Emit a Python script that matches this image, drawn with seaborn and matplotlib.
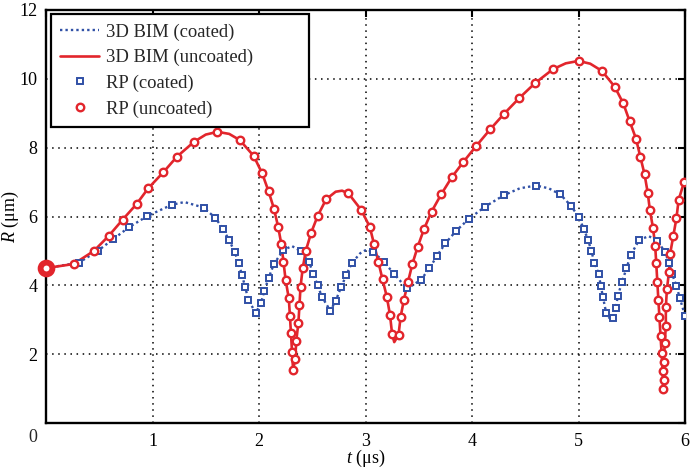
import matplotlib
matplotlib.use("Agg")
import matplotlib.pyplot as plt
import seaborn as sns
import pandas as pd

# ---- data ----
# RP markers, uncoated
t_rp_unc = [0.00, 0.26, 0.45, 0.59, 0.72, 0.85, 0.96, 1.10, 1.23, 1.39, 1.61, 1.82,
            1.95, 2.03, 2.09, 2.14, 2.18, 2.21, 2.23, 2.25, 2.28, 2.29, 2.30, 2.31, 2.32,
            2.34, 2.35, 2.37, 2.38, 2.39, 2.41, 2.44, 2.49, 2.55, 2.63, 2.84, 2.96,
            3.04, 3.08, 3.12, 3.16, 3.20, 3.23, 3.25, 3.31, 3.33, 3.36, 3.40, 3.44,
            3.49, 3.55, 3.62, 3.71, 3.81, 3.92, 4.04, 4.17, 4.30, 4.44, 4.59, 4.76,
            5.00, 5.22, 5.34, 5.42, 5.48, 5.54, 5.58, 5.62, 5.65, 5.67, 5.70, 5.72,
            5.73, 5.74, 5.75, 5.76, 5.77, 5.78, 5.79, 5.79, 5.80, 5.80, 5.81, 5.82,
            5.82, 5.83, 5.85, 5.86, 5.89, 5.92, 5.94, 5.99]
r_rp_unc = [4.50, 4.62, 5.00, 5.44, 5.91, 6.36, 6.82, 7.28, 7.74, 8.17, 8.46, 8.22,
            7.76, 7.25, 6.73, 6.23, 5.70, 5.19, 4.68, 4.15, 3.62, 3.12, 2.61, 2.07, 1.54,
            1.85, 2.39, 2.91, 3.43, 3.96, 4.49, 5.01, 5.53, 6.01, 6.50, 6.67, 6.19,
            5.70, 5.20, 4.69, 4.17, 3.67, 3.14, 2.58, 2.56, 3.09, 3.57, 4.11, 4.62,
            5.12, 5.64, 6.14, 6.64, 7.14, 7.59, 8.05, 8.53, 8.98, 9.43, 9.87, 10.28,
            10.52, 10.23, 9.77, 9.29, 8.77, 8.26, 7.74, 7.23, 6.69, 6.19, 5.66, 5.15,
            4.64, 4.11, 3.57, 3.07, 2.54, 2.04, 1.52, 0.99, 1.25, 1.78, 2.32, 2.83,
            3.36, 3.88, 4.40, 4.91, 5.43, 5.96, 6.48, 6.99]

# 3D BIM line, uncoated
t_bim_unc = [0.00, 0.26, 0.45, 0.59, 0.72, 0.85, 0.96, 1.10, 1.23, 1.39, 1.50, 1.61, 1.72, 1.82,
             1.95, 2.03, 2.09, 2.14, 2.18, 2.21, 2.23, 2.25, 2.28, 2.29, 2.30, 2.31, 2.32,
             2.34, 2.35, 2.37, 2.38, 2.39, 2.41, 2.44, 2.49, 2.55, 2.63, 2.72, 2.78, 2.84, 2.96,
             3.04, 3.08, 3.12, 3.16, 3.20, 3.23, 3.25, 3.27, 3.31, 3.33, 3.36, 3.40, 3.44,
             3.49, 3.55, 3.62, 3.71, 3.81, 3.92, 4.04, 4.17, 4.30, 4.44, 4.59, 4.76, 4.88,
             5.00, 5.11, 5.22, 5.34, 5.42, 5.48, 5.54, 5.58, 5.62, 5.65, 5.67, 5.70, 5.72,
             5.73, 5.74, 5.75, 5.76, 5.77, 5.78, 5.79, 5.795, 5.80, 5.80, 5.81, 5.82,
             5.82, 5.83, 5.85, 5.86, 5.89, 5.92, 5.94, 5.99]
r_bim_unc = [4.50, 4.62, 5.00, 5.44, 5.91, 6.36, 6.82, 7.28, 7.74, 8.17, 8.38, 8.46, 8.40, 8.22,
             7.76, 7.25, 6.73, 6.23, 5.70, 5.19, 4.68, 4.15, 3.62, 3.12, 2.61, 2.07, 1.54,
             1.85, 2.39, 2.91, 3.43, 3.96, 4.49, 5.01, 5.53, 6.01, 6.50, 6.72, 6.75, 6.67, 6.19,
             5.70, 5.20, 4.69, 4.17, 3.67, 3.14, 2.58, 2.35, 2.56, 3.09, 3.57, 4.11, 4.62,
             5.12, 5.64, 6.14, 6.64, 7.14, 7.59, 8.05, 8.53, 8.98, 9.43, 9.87, 10.28, 10.45,
             10.52, 10.44, 10.23, 9.77, 9.29, 8.77, 8.26, 7.74, 7.23, 6.69, 6.19, 5.66, 5.15,
             4.64, 4.11, 3.57, 3.07, 2.54, 2.04, 1.52, 0.95, 1.25, 1.78, 2.32, 2.83,
             3.36, 3.88, 4.40, 4.91, 5.43, 5.96, 6.48, 6.99]

# RP markers, coated
t_rp_coat = [0.31, 0.49, 0.63, 0.78, 0.95, 1.18, 1.48, 1.59, 1.66, 1.72, 1.77, 1.81,
             1.84, 1.87, 1.90, 1.97, 2.02, 2.05, 2.09, 2.14, 2.23, 2.39, 2.47, 2.51,
             2.55, 2.59, 2.67, 2.72, 2.77, 2.82, 2.87, 3.07, 3.17, 3.27, 3.39, 3.52,
             3.60, 3.67, 3.75, 3.85, 3.97, 4.12, 4.30, 4.60, 4.83, 4.93, 5.00, 5.05,
             5.09, 5.12, 5.15, 5.19, 5.21, 5.23, 5.26, 5.32, 5.35, 5.37, 5.41, 5.45,
             5.49, 5.57, 5.74, 5.81, 5.85, 5.88, 5.92, 5.95, 6.00]
r_rp_coat = [4.66, 5.01, 5.34, 5.69, 6.01, 6.34, 6.26, 5.96, 5.65, 5.31, 4.98, 4.64,
             4.29, 3.96, 3.57, 3.20, 3.50, 3.84, 4.21, 4.62, 5.03, 5.00, 4.68, 4.33,
             4.01, 3.67, 3.26, 3.55, 3.94, 4.30, 4.64, 4.98, 4.69, 4.33, 3.93, 4.16,
             4.49, 4.85, 5.22, 5.58, 5.93, 6.28, 6.62, 6.90, 6.64, 6.31, 5.99, 5.64,
             5.32, 5.00, 4.66, 4.32, 3.98, 3.65, 3.20, 3.06, 3.35, 3.70, 4.11, 4.49,
             4.88, 5.32, 5.29, 4.98, 4.66, 4.32, 3.98, 3.64, 3.12]

# 3D BIM line, coated
t_bim_coat = [0.00, 0.31, 0.49, 0.63, 0.78, 0.95, 1.18, 1.30, 1.48, 1.59, 1.66, 1.72, 1.77, 1.81,
              1.84, 1.87, 1.90, 1.97, 2.02, 2.05, 2.09, 2.14, 2.23, 2.31, 2.39, 2.47, 2.51,
              2.55, 2.59, 2.67, 2.72, 2.77, 2.82, 2.87, 2.95, 3.01, 3.07, 3.17, 3.27, 3.39, 3.52,
              3.60, 3.67, 3.75, 3.85, 3.97, 4.12, 4.30, 4.45, 4.60, 4.72, 4.83, 4.93, 5.00, 5.05,
              5.09, 5.12, 5.15, 5.19, 5.21, 5.23, 5.26, 5.29, 5.32, 5.35, 5.37, 5.41, 5.45,
              5.49, 5.57, 5.66, 5.74, 5.81, 5.85, 5.88, 5.92, 5.95, 6.00]
r_bim_coat = [4.50, 4.66, 5.01, 5.34, 5.69, 6.01, 6.34, 6.42, 6.26, 5.96, 5.65, 5.31, 4.98, 4.64,
              4.29, 3.96, 3.57, 3.20, 3.50, 3.84, 4.21, 4.62, 5.03, 5.14, 5.00, 4.68, 4.33,
              4.01, 3.67, 3.26, 3.55, 3.94, 4.30, 4.64, 4.93, 5.04, 4.98, 4.69, 4.33, 3.90, 4.16,
              4.49, 4.85, 5.22, 5.58, 5.93, 6.28, 6.62, 6.82, 6.90, 6.82, 6.64, 6.31, 5.99, 5.64,
              5.32, 5.00, 4.66, 4.32, 3.98, 3.65, 3.20, 3.05, 3.06, 3.35, 3.70, 4.11, 4.49,
              4.88, 5.32, 5.43, 5.29, 4.98, 4.66, 4.32, 3.98, 3.64, 3.12]

x_ticks = [0, 1, 2, 3, 4, 5, 6]
x_ticklabels = ["", "1", "2", "3", "4", "5", "6"]
y_ticks = [0, 2, 4, 6, 8, 10, 12]
y_ticklabels = ["", "2", "4", "6", "8", "10", "12"]
corner_label = "0"

RED = "#E2252C"
BLUE = "#3050A6"

sns.set_theme(style="white")
plt.rcParams["font.family"] = ["Liberation Serif", "DejaVu Serif"]
plt.rcParams["mathtext.fontset"] = "custom"
plt.rcParams["mathtext.it"] = "Liberation Serif:italic"
plt.rcParams["mathtext.rm"] = "Liberation Serif"

W, H = 694, 468
fig = plt.figure(figsize=(W / 100, H / 100), dpi=100)
ax_l, ax_r, ax_t, ax_b = 46, 685, 10, 423
ax = fig.add_axes([ax_l / W, 1 - ax_b / H, (ax_r - ax_l) / W, (ax_b - ax_t) / H])
aw, ah = ax_r - ax_l, ax_b - ax_t

sns.lineplot(x=t_bim_coat, y=r_bim_coat, sort=False, estimator=None, color=BLUE,
             linestyle=(0, (1, 1.3)), linewidth=1.7, ax=ax, label="3D BIM (coated)", zorder=3)
sns.lineplot(x=t_bim_unc, y=r_bim_unc, sort=False, estimator=None, color=RED,
             linewidth=1.9, ax=ax, label="3D BIM (uncoated)", zorder=4)
sns.lineplot(x=t_rp_coat, y=r_rp_coat, sort=False, estimator=None, color=BLUE,
             linestyle="none", marker="s", markersize=3.8, markerfacecolor="white",
             markeredgecolor=BLUE, markeredgewidth=1.4, ax=ax, label="RP (coated)", zorder=5)
sns.lineplot(x=t_rp_unc, y=r_rp_unc, sort=False, estimator=None, color=RED,
             linestyle="none", marker="o", markersize=5.4, markerfacecolor="white",
             markeredgecolor=RED, markeredgewidth=1.7, ax=ax, label="RP (uncoated)", zorder=6)
# initial point drawn heavier
ax.plot(t_rp_unc[:1], r_rp_unc[:1], marker="o", markersize=8.5, markerfacecolor="white",
        markeredgecolor=RED, markeredgewidth=4.2, linestyle="none", zorder=7, clip_on=False)

ax.set_xlim(0, 6)
ax.set_ylim(0, 12)
ax.set_xticks(x_ticks)
ax.set_xticklabels(x_ticklabels)
ax.set_yticks(y_ticks)
ax.set_yticklabels(y_ticklabels)
ax.grid(True, color="black", linestyle=(0, (1, 3)), linewidth=1.1)
ax.set_axisbelow(True)
ax.tick_params(direction="in", length=5, width=1.5, top=True, right=True,
               labelsize=13, colors="black")
ax.tick_params(axis="x", pad=7)
ax.tick_params(axis="y", pad=6)
for s in ax.spines.values():
    s.set_color("black")
    s.set_linewidth(1.7)

ax.set_xlabel("$t$ (μs)", fontsize=13, color="black")
ax.xaxis.set_label_coords(0.5, (ax_b - 448) / ah)
ax.set_ylabel("$R$ (μm)", fontsize=13, color="black")
ax.yaxis.set_label_coords((21 - ax_l) / aw, 0.5)
fig.text(33 / W, 1 - 438 / H, corner_label, ha="center", va="center", fontsize=13)

leg = ax.legend(loc="upper left", frameon=True, fancybox=False, edgecolor="black",
                framealpha=1, mode="expand", borderaxespad=0,
                bbox_to_anchor=((51 - ax_l) / aw, 0, (309 - 51) / aw, (ax_b - 14) / ah),
                handlelength=2.1, handletextpad=0.35, fontsize=13.4,
                labelspacing=0.45, borderpad=0.5)
leg.get_frame().set_linewidth(1.6)
leg.set_zorder(10)

fig.savefig("out.png", dpi=100)
